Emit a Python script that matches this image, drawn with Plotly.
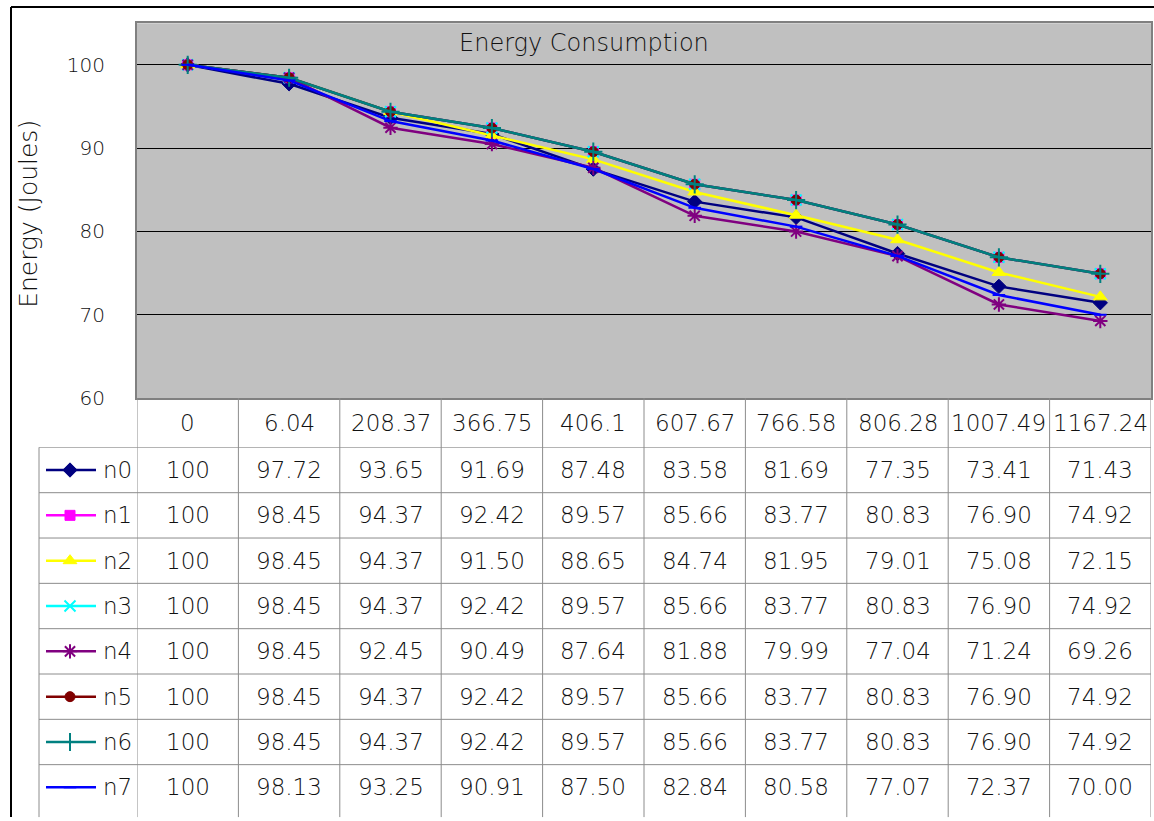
import plotly.graph_objects as go

# ---- data -------------------------------------------------------------
times = ["0", "6.04", "208.37", "366.75", "406.1",
         "607.67", "766.58", "806.28", "1007.49", "1167.24"]

n0 = [100, 97.72, 93.65, 91.69, 87.48, 83.58, 81.69, 77.35, 73.41, 71.43]
n1 = [100, 98.45, 94.37, 92.42, 89.57, 85.66, 83.77, 80.83, 76.90, 74.92]
n2 = [100, 98.45, 94.37, 91.50, 88.65, 84.74, 81.95, 79.01, 75.08, 72.15]
n3 = [100, 98.45, 94.37, 92.42, 89.57, 85.66, 83.77, 80.83, 76.90, 74.92]
n4 = [100, 98.45, 92.45, 90.49, 87.64, 81.88, 79.99, 77.04, 71.24, 69.26]
n5 = [100, 98.45, 94.37, 92.42, 89.57, 85.66, 83.77, 80.83, 76.90, 74.92]
n6 = [100, 98.45, 94.37, 92.42, 89.57, 85.66, 83.77, 80.83, 76.90, 74.92]
n7 = [100, 98.13, 93.25, 90.91, 87.50, 82.84, 80.58, 77.07, 72.37, 70.00]

series_names = ["n0", "n1", "n2", "n3", "n4", "n5", "n6", "n7"]
series_values = [n0, n1, n2, n3, n4, n5, n6, n7]

y_ticks = [60, 70, 80, 90, 100]

# ---- styles -----------------------------------------------------------
colors = ["#000080", "#FF00FF", "#FFFF00", "#00FFFF",
          "#800080", "#800000", "#008080", "#0000FF"]
symbols = ["diamond", "square", "triangle-up", "x-thin",
           "asterisk", "circle", "cross-thin", "line-ew"]
sizes = [11, 10, 12, 11, 12, 10, 13, 9]
line_markers = {"x-thin", "asterisk", "cross-thin", "line-ew"}

FONT = "DejaVu Sans"
WEIGHT = 300
TXT = "#111111"
GRID_LINE = "#8c8c8c"

W, H = 1154, 821


def px(x):
    return x / W


def py(y):
    return 1 - y / H


PLOT_L, PLOT_R, PLOT_T, PLOT_B = 137, 1151, 23.5, 404
HEAD_B = 454          # bottom of the category header row
ROW_H = 46            # height of a series row in the table
LEG_L = 39            # left edge of the series-name column
N_ROWS_VISIBLE = (H - HEAD_B) / ROW_H


def fmt(col, v):
    return f"{v:g}" if col == 0 else f"{v:.2f}"


def font(size):
    return dict(family=FONT, size=size, color=TXT, weight=WEIGHT)


fig = go.Figure()

# ---- chart lines --------------------------------------------------------
xs = list(range(len(times)))
for name, vals, c, sym, sz in zip(series_names, series_values, colors, symbols, sizes):
    is_line = sym in line_markers
    fig.add_trace(go.Scatter(
        x=xs, y=vals, mode="lines+markers", name=name,
        line=dict(color=c, width=2.5),
        marker=dict(symbol=sym, size=sz, color=c,
                    line=dict(color=c, width=2 if is_line else 1)),
        xaxis="x", yaxis="y", showlegend=False, cliponaxis=False,
    ))

# ---- series key samples in the table's first column -----------------------
for r, (name, c, sym, sz) in enumerate(zip(series_names, colors, symbols, sizes)):
    is_line = sym in line_markers
    fig.add_trace(go.Scatter(
        x=[7, 57], y=[r + 0.5, r + 0.5], mode="lines",
        line=dict(color=c, width=2.5),
        xaxis="x2", yaxis="y2", showlegend=False, hoverinfo="skip",
    ))
    fig.add_trace(go.Scatter(
        x=[31], y=[r + 0.5], mode="markers",
        marker=dict(symbol=sym, size=sz, color=c,
                    line=dict(color=c, width=2 if is_line else 1)),
        xaxis="x2", yaxis="y2", showlegend=False, hoverinfo="skip",
        cliponaxis=False,
    ))

annotations = []

# title inside the plot area
annotations.append(dict(
    text="Energy Consumption", x=px(584), y=py(44), xref="paper", yref="paper",
    showarrow=False, font=font(24), xanchor="center", yanchor="middle",
))
# y-axis title
annotations.append(dict(
    text="Energy (Joules)", x=px(29), y=py(217), xref="paper", yref="paper",
    showarrow=False, textangle=-90, font=font(25),
    xanchor="center", yanchor="middle",
))

# header row: categories
for j, t in enumerate(times):
    annotations.append(dict(
        text=t, x=j, y=py((PLOT_B + HEAD_B) / 2), xref="x", yref="paper",
        showarrow=False, font=font(23), xanchor="center", yanchor="middle",
    ))

# data rows
for r, (name, vals) in enumerate(zip(series_names, series_values)):
    annotations.append(dict(
        text=name, x=62, y=r + 0.5, xref="x2", yref="y2",
        showarrow=False, font=font(23), xanchor="left", yanchor="middle",
    ))
    for j, v in enumerate(vals):
        annotations.append(dict(
            text=fmt(j, v), x=j, y=r + 0.5, xref="x", yref="y2",
            showarrow=False, font=font(23), xanchor="center", yanchor="middle",
        ))

shapes = []
# grey plot-area fill, beneath the gridlines
shapes.append(dict(type="rect", xref="x domain", yref="y domain",
                   x0=0, x1=1, y0=0, y1=1, fillcolor="#C0C0C0",
                   line=dict(width=0), layer="below"))
# outer chart frame
shapes.append(dict(type="line", xref="paper", yref="paper",
                   x0=px(11), x1=1.01, y0=py(7), y1=py(7),
                   line=dict(color="black", width=2)))
shapes.append(dict(type="line", xref="paper", yref="paper",
                   x0=px(11), x1=px(11), y0=py(7), y1=-0.01,
                   line=dict(color="black", width=2)))

# table horizontal rules
for k in range(len(series_names)):
    shapes.append(dict(type="line", xref="paper", yref="y2",
                       x0=px(LEG_L), x1=px(PLOT_R), y0=k, y1=k,
                       line=dict(color=GRID_LINE, width=1)))
# table vertical rules
for j in range(len(times) + 1):
    shapes.append(dict(type="line", xref="x", yref="paper",
                       x0=j - 0.5, x1=j - 0.5, y0=-0.01, y1=py(PLOT_B),
                       line=dict(color=GRID_LINE, width=1)))
shapes.append(dict(type="line", xref="paper", yref="paper",
                   x0=px(LEG_L), x1=px(LEG_L), y0=-0.01, y1=py(HEAD_B),
                   line=dict(color=GRID_LINE, width=1)))

fig.update_layout(
    width=W, height=H,
    margin=dict(l=0, r=0, t=0, b=0),
    paper_bgcolor="white",
    plot_bgcolor="rgba(0,0,0,0)",
    showlegend=False,
    xaxis=dict(
        domain=[px(PLOT_L), px(PLOT_R)], range=[-0.5, len(times) - 0.5],
        showticklabels=False, showgrid=False, zeroline=False, ticks="",
        showline=True, mirror=True, linecolor="#808080", linewidth=2,
        fixedrange=True,
    ),
    yaxis=dict(
        domain=[py(PLOT_B), py(PLOT_T)], range=[60, 105],
        tickvals=y_ticks, ticktext=[str(t) for t in y_ticks],
        tickfont=font(20),
        ticks="", ticklabelstandoff=26,
        showgrid=True, gridcolor="black", gridwidth=1, zeroline=False,
        showline=True, mirror=True, linecolor="#808080", linewidth=2,
        fixedrange=True,
    ),
    xaxis2=dict(
        domain=[px(LEG_L), px(PLOT_L)], range=[0, PLOT_L - LEG_L],
        visible=False, anchor="y2", fixedrange=True,
    ),
    yaxis2=dict(
        domain=[0, py(HEAD_B)], range=[N_ROWS_VISIBLE, 0],
        visible=False, anchor="x2", fixedrange=True,
    ),
    annotations=annotations,
    shapes=shapes,
)

fig.write_html("out.html")
